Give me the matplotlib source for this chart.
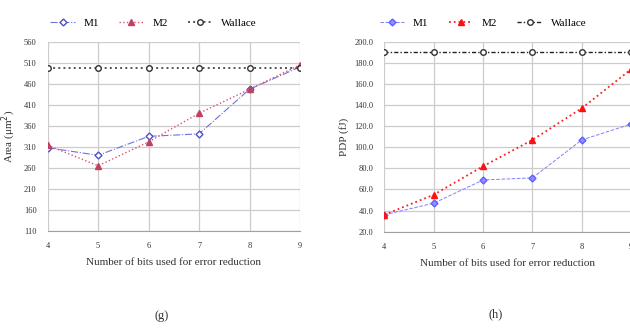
import numpy as np
import matplotlib
matplotlib.use('Agg')
import matplotlib.pyplot as plt

plt.rcParams['font.family'] = ['Liberation Serif', 'DejaVu Serif']
plt.rcParams['font.size'] = 8

bits = [4, 5, 6, 7, 8, 9]

# (g) area
area_m1 = [308, 290, 335, 341, 447, 500]
area_m2 = [314, 265, 322, 390, 447, 505]
area_wallace = [497, 497, 497, 497, 497, 497]
area_ticks = [110, 160, 210, 260, 310, 360, 410, 460, 510, 560]

# (h) PDP
pdp_m1 = [36, 47, 69, 71, 107, 122]
pdp_m2 = [36, 55, 82, 107, 137, 174]
pdp_wallace = [190, 190, 190, 190, 190, 190]
pdp_ticks = [20, 40, 60, 80, 100, 120, 140, 160, 180, 200]

fig = plt.figure(figsize=(6.3, 3.31), dpi=100)

grid_col = '#cccccc'


def style(ax, ticks):
    ax.set_xlim(4, 9)
    ax.set_ylim(ticks[0], ticks[-1])
    ax.set_xticks(bits)
    ax.set_yticks(ticks)
    ax.grid(True, color=grid_col, linewidth=0.9)
    for s in ['top', 'right', 'left']:
        ax.spines[s].set_visible(False)
    ax.spines['bottom'].set_color('#a0a0a0')
    ax.tick_params(length=0, colors='#333333', pad=8, labelsize=6)
    ax.set_xlabel('Number of bits used for error reduction', color='#333333', labelpad=6)


ax1 = fig.add_axes([0.0757, 0.302, 0.4005, 0.572])
ax1.plot(bits, area_m1, color='#7070e0', linestyle='-.', linewidth=0.8,
         marker='D', markersize=3.5, markerfacecolor='white', markeredgecolor='#5050c0', label='M1')
ax1.plot(bits, area_m2, color='#e05070', linestyle=':', linewidth=1.0,
         marker='^', markersize=4, markerfacecolor='#c04060', markeredgecolor='#c04060', label='M2')
ax1.plot(bits, area_wallace, color='#555555', linestyle=':', linewidth=1.4,
         marker='o', markersize=4, markerfacecolor='white', markeredgecolor='#333333', label='Wallace')
style(ax1, area_ticks)
ax1.set_ylabel('Area (μm$^2$)', color='#333333', labelpad=4)
ax1.legend(loc='lower center', bbox_to_anchor=(0.42, 1.02), ncol=3, frameon=False,
           handlelength=2.2, columnspacing=1.8, handletextpad=0.8)

ax2 = fig.add_axes([0.610, 0.300, 0.392, 0.574])
ax2.plot(bits, pdp_m1, color='#8080ff', linestyle='--', linewidth=0.7,
         marker='D', markersize=3.5, markerfacecolor='#9090ff', markeredgecolor='#6060ff', label='M1')
ax2.plot(bits, pdp_m2, color='#ff2020', linestyle=':', linewidth=1.3,
         marker='^', markersize=4.5, markerfacecolor='#ff1010', markeredgecolor='#ff1010', label='M2')
ax2.plot(bits, pdp_wallace, color='#222222', linestyle=(0, (3, 1.5, 1, 1.5)), linewidth=1.0,
         marker='o', markersize=4, markerfacecolor='white', markeredgecolor='#333333', label='Wallace')
style(ax2, pdp_ticks)
ax2.yaxis.set_major_formatter(matplotlib.ticker.FormatStrFormatter('%.1f'))
ax2.set_ylabel('PDP (fJ)', color='#333333', labelpad=4)
ax2.legend(loc='lower center', bbox_to_anchor=(0.40, 1.02), ncol=3, frameon=False,
           handlelength=2.2, columnspacing=1.8, handletextpad=0.8)

fig.text(0.256, 0.045, '(g)', ha='center', va='center', fontsize=9, color='#333333')
fig.text(0.787, 0.052, '(h)', ha='center', va='center', fontsize=9, color='#333333')

fig.savefig('out.png', dpi=100)
